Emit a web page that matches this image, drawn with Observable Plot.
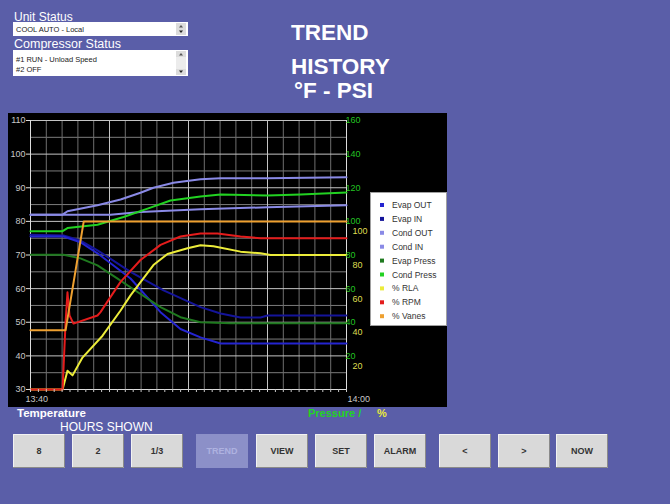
<!DOCTYPE html>
<html><head><meta charset="utf-8">
<script src="https://cdn.jsdelivr.net/npm/d3@7"></script>
<script src="https://cdn.jsdelivr.net/npm/@observablehq/plot@0.6"></script>
<style>
html,body{margin:0;padding:0;}
body{width:670px;height:504px;background:#5a5ea8;overflow:hidden;}
#page{position:relative;width:670px;height:504px;}
</style></head>
<body><div id="page"></div>
<script>
// ---------- data ----------
const unitStatus = "COOL AUTO - Local";
const compressorStatus = ["#1 RUN - Unload Speed", "#2 OFF"];
const titleLines = ["TREND", "HISTORY", "°F - PSI"];
const buttonLabels = ["8", "2", "1/3", "TREND", "VIEW", "SET", "ALARM", "<", ">", "NOW"];
const xTickLabels = ["13:40", "14:00"];
const timeDomain = [0, 20];            // minutes after 13:40
const tempDomain = [30, 110];          // °F
const pressDomain = [0, 160];          // psi / % (right axis)
const tempTicks = [30, 40, 50, 60, 70, 80, 90, 100, 110];
const pressTicks = [20, 40, 60, 80, 100, 120, 140, 160];
const pctTicks = [20, 40, 60, 80, 100];

const legendNames = ["Evap OUT", "Evap IN", "Cond OUT", "Cond IN", "Evap Press", "Cond Press", "% RLA", "% RPM", "% Vanes"];
const legendColors = ["#2424d0", "#14149a", "#8a8ae6", "#8a8ae6", "#1f7a1f", "#22d222", "#ecec3a", "#e41c1c", "#eea030"];

// temperatures (°F)
const evapOutT = [0, 2.09, 3.16, 4.24, 6.33, 8.23, 9.49, 10.76, 12.03, 20];
const evapOutF = [75.5, 75.5, 73.8, 70.5, 63, 53, 48, 45.5, 43.7, 43.7];
const evapInT = [0, 2.09, 3.16, 4.24, 6.33, 8.42, 10.76, 12.03, 13.29, 14.56, 15.0, 20];
const evapInF = [76, 75.8, 74.3, 71.4, 65, 59.5, 54.5, 52.6, 51.4, 51.4, 52, 52];
const condOutT = [0, 2.03, 2.34, 4.24, 5.70, 6.96, 7.78, 9.05, 10.76, 12.03, 15.0, 20];
const condOutF = [82, 82, 83, 84.8, 86.5, 88.5, 90, 91.5, 92.5, 92.8, 92.8, 93.1];
const condInT = [0, 5.06, 6.96, 10.76, 15.0, 20];
const condInF = [82, 82, 82.8, 83.6, 84.2, 84.8];
// pressures (psi)
const evapPressT = [0, 2.09, 3.16, 4.24, 5.51, 6.77, 8.23, 9.49, 10.76, 12.66, 20];
const evapPressPsi = [80.2, 80.2, 78, 73.8, 66, 58, 49, 43, 40, 39.4, 39.4];
const condPressT = [0, 2.03, 2.34, 4.24, 5.89, 7.41, 8.86, 10.76, 12.03, 15.0, 17.09, 20];
const condPressPsi = [94.2, 94.2, 96, 98, 102.6, 107.6, 112.4, 114.8, 116, 115.4, 116, 117.2];
// percentages
const rlaT = [0, 2.03, 2.34, 2.66, 3.29, 4.56, 5.70, 6.33, 7.78, 8.67, 9.94, 10.76, 11.58, 13.29, 14.56, 15.19, 20];
const rlaPct = [0, 0, 11.2, 8.4, 19, 32, 47, 56, 74, 80.6, 84, 85.8, 85.2, 82, 81, 80, 80];
const rpmT = [0, 2.03, 2.22, 2.34, 2.47, 2.72, 4.24, 4.43, 5.70, 6.96, 8.23, 9.49, 10.76, 11.84, 13.29, 14.56, 20];
const rpmPct = [0, 0, 40, 57.8, 44, 39.2, 44, 46, 64, 77, 86, 91, 92.8, 92.8, 91, 90, 90];
const vanesT = [0, 2.22, 3.37, 20];
const vanesPct = [35.2, 35.2, 100, 100];

// ---------- build table ----------
const series = [
  {name: "Cond IN", t: condInT, v: condInF, axis: "temp"},
  {name: "Cond OUT", t: condOutT, v: condOutF, axis: "temp"},
  {name: "Evap IN", t: evapInT, v: evapInF, axis: "temp"},
  {name: "Evap OUT", t: evapOutT, v: evapOutF, axis: "temp"},
  {name: "Evap Press", t: evapPressT, v: evapPressPsi, axis: "press"},
  {name: "Cond Press", t: condPressT, v: condPressPsi, axis: "press"},
  {name: "% RLA", t: rlaT, v: rlaPct, axis: "press"},
  {name: "% RPM", t: rpmT, v: rpmPct, axis: "press"},
  {name: "% Vanes", t: vanesT, v: vanesPct, axis: "press"}
];
// right axis (0..160) shares the frame with the left axis (30..110)
const pressToTemp = d3.scaleLinear().domain(pressDomain).range(tempDomain);
const rows = series.flatMap(s => s.t.map((t, i) => ({
  name: s.name, t, y: s.axis === "temp" ? s.v[i] : pressToTemp(s.v[i])
})));

const font = "Liberation Sans, Arial, sans-serif";
const narrow = "Liberation Sans Narrow, Arial Narrow, Liberation Sans, Arial, sans-serif";
const page = d3.select("#page");

// ---------- background UI ----------
const bg = page.append("svg").attr("width", 670).attr("height", 504)
  .style("position", "absolute").style("left", "0px").style("top", "0px");
bg.append("rect").attr("width", 670).attr("height", 504).attr("fill", "#5a5ea8");
function txt(g, x, y, s, o = {}) {
  return g.append("text").attr("x", x).attr("y", y).text(s)
    .attr("font-family", o.family || font).attr("font-size", o.size || 12)
    .attr("font-weight", o.weight || "normal").attr("fill", o.fill || "#fff")
    .attr("text-anchor", o.anchor || "start");
}
function scrollBox(g, x, y, h) {
  g.append("rect").attr("x", x).attr("y", y).attr("width", 10).attr("height", h).attr("fill", "#ececec");
  g.append("rect").attr("x", x).attr("y", y).attr("width", 10).attr("height", 6).attr("fill", "#dcdcdc");
  g.append("rect").attr("x", x).attr("y", y + h - 6).attr("width", 10).attr("height", 6).attr("fill", "#dcdcdc");
  g.append("path").attr("d", `M${x + 3},${y + 4.5}L${x + 5},${y + 2}L${x + 7},${y + 4.5}Z`).attr("fill", "#555");
  g.append("path").attr("d", `M${x + 3},${y + h - 4.5}L${x + 5},${y + h - 2}L${x + 7},${y + h - 4.5}Z`).attr("fill", "#222");
}
txt(bg, 14, 21, "Unit Status", {size: 12});
bg.append("rect").attr("x", 13).attr("y", 22).attr("width", 175).attr("height", 14).attr("fill", "#fff");
txt(bg, 16, 32, unitStatus, {size: 7.5, fill: "#222"});
scrollBox(bg, 176, 23, 12);
txt(bg, 14, 48, "Compressor Status", {size: 12.5});
bg.append("rect").attr("x", 13).attr("y", 50).attr("width", 175).attr("height", 26).attr("fill", "#fff");
txt(bg, 16, 62, compressorStatus[0], {size: 7.5, fill: "#222"});
txt(bg, 16, 72, compressorStatus[1], {size: 7.5, fill: "#222"});
scrollBox(bg, 176, 51, 24);

txt(bg, 291, 40, titleLines[0], {size: 22.5, weight: "bold"});
txt(bg, 291, 74, titleLines[1], {size: 22.5, weight: "bold"});
txt(bg, 294, 98, titleLines[2], {size: 22.5, weight: "bold"});

txt(bg, 17, 417, "Temperature", {size: 11.5, weight: "bold"});
txt(bg, 308, 417, "Pressure /", {size: 11, weight: "bold", fill: "#22d422"});
txt(bg, 377, 417, "%", {size: 11, weight: "bold", fill: "#eaea3a"});
txt(bg, 60, 431, "HOURS SHOWN", {size: 12});

const btnLeft = [13, 72, 131, 196, 256, 315, 374, 439, 498, 556];
buttonLabels.forEach((lab, i) => {
  const x = btnLeft[i], y = 434, w = 52, h = 34;
  const disabled = lab === "TREND";
  const g = bg.append("g");
  g.append("rect").attr("x", x).attr("y", y).attr("width", w).attr("height", h)
    .attr("fill", disabled ? "#8c90c8" : "#d9d9d9");
  if (!disabled) {
    g.append("path").attr("d", `M${x + 0.5},${y + h}V${y + 0.5}H${x + w}`).attr("stroke", "#f2f2f2").attr("fill", "none");
    g.append("path").attr("d", `M${x},${y + h - 0.5}H${x + w - 0.5}V${y}`).attr("stroke", "#8a8a8a").attr("fill", "none");
  }
  txt(g, x + w / 2, y + h / 2 + 3, lab, {size: 9, weight: "bold", family: narrow,
    fill: disabled ? "#aeb2e0" : "#333", anchor: "middle"});
});

// ---------- chart ----------
const minorX = d3.range(1, 20).filter(m => m % 5 !== 0);
const majorX = [5, 10, 15];
const minorY = d3.range(35, 110, 10);
const majorY = d3.range(40, 111, 10);
const halfMinutes = d3.range(0, 20.01, 0.5);

const chart = Plot.plot({
  width: 439, height: 294,
  marginLeft: 22, marginRight: 101, marginTop: 7, marginBottom: 18,
  x: {domain: timeDomain, label: null},
  y: {domain: tempDomain, label: null},
  color: {domain: legendNames, range: legendColors},
  style: {background: "#000", fontFamily: font, fontSize: "9px", overflow: "visible"},
  marks: [
    Plot.ruleY(minorY, {stroke: "#7c7c7c"}),
    Plot.ruleX(minorX, {stroke: "#6e6e6e"}),
    Plot.ruleY(majorY, {stroke: "#c4c4c4"}),
    Plot.ruleX(majorX, {stroke: "#c4c4c4"}),
    Plot.ruleX(timeDomain, {stroke: "#dcdcdc"}),
    Plot.ruleY([tempDomain[0]], {stroke: "#dcdcdc"}),
    Plot.line(rows, {x: "t", y: "y", z: "name", stroke: "name", strokeWidth: 2}),
    Plot.axisY({ticks: tempTicks, tickSize: 4, tickPadding: 1, fill: "#c8c8c8", stroke: "#dcdcdc", fontSize: 9, label: null}),
    Plot.axisX({ticks: halfMinutes, tickSize: 3, tickFormat: () => "", stroke: "#c8c8c8", label: null}),
    Plot.text([xTickLabels[0]], {x: () => timeDomain[0], y: () => tempDomain[0], text: d => d,
      dy: 10, dx: -5, textAnchor: "start", fill: "#c8c8c8", fontSize: 9}),
    Plot.text([xTickLabels[1]], {x: () => timeDomain[1], y: () => tempDomain[0], text: d => d,
      dy: 10, dx: 1, textAnchor: "start", fill: "#c8c8c8", fontSize: 9}),
    Plot.text(pressTicks, {x: () => timeDomain[1], y: d => pressToTemp(d), text: d => String(d),
      dx: -1, textAnchor: "start", fill: "#22c422", fontSize: 9}),
    Plot.text(pctTicks, {x: () => timeDomain[1], y: d => pressToTemp(d), text: d => String(d),
      dx: 6, dy: 10, textAnchor: "start", fill: "#dede50", fontSize: 9})
  ]
});
d3.select(chart).style("position", "absolute").style("left", "8px").style("top", "113px");
page.node().appendChild(chart);

// ---------- legend ----------
const lg = page.append("svg").attr("width", 77).attr("height", 134)
  .style("position", "absolute").style("left", "370px").style("top", "192px");
lg.append("rect").attr("x", 0.5).attr("y", 0.5).attr("width", 76).attr("height", 133)
  .attr("fill", "#fff").attr("stroke", "#a0a0a0");
legendNames.forEach((n, i) => {
  const cy = 13 + i * 13.9;
  lg.append("rect").attr("x", 10).attr("y", cy - 2).attr("width", 4).attr("height", 4).attr("fill", legendColors[i]);
  txt(lg, 22, cy + 3, n, {size: 8.5, fill: "#333"});
});
</script>
</body></html>
